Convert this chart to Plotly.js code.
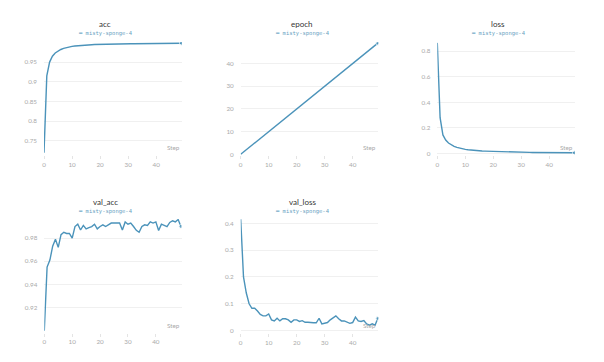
<!DOCTYPE html>
<html>
<head>
<meta charset="utf-8">
<script src="https://cdn.plot.ly/plotly-3.0.1.min.js"></script>
<style>html,body{margin:0;padding:0;background:#fff;}#chart{width:604px;height:362px;}</style>
</head>
<body>
<div id="chart"></div>
<script>
// ---- data ----
const steps = Array.from({length: 50}, (_, i) => i);
const runName = "misty-sponge-4";
const panelTitles = ["acc", "epoch", "loss", "val_acc", "val_loss"];

const acc = [0.72, 0.915, 0.950, 0.965, 0.973, 0.978, 0.982, 0.985, 0.987, 0.989,
  0.990, 0.991, 0.9918, 0.9924, 0.993, 0.9934, 0.9938, 0.9942, 0.9945, 0.9948,
  0.995, 0.9952, 0.9954, 0.9956, 0.9958, 0.996, 0.9961, 0.9962, 0.9963, 0.9964,
  0.9965, 0.9966, 0.9967, 0.9968, 0.9969, 0.997, 0.9971, 0.9972, 0.9973, 0.9974,
  0.9975, 0.9976, 0.9977, 0.9977, 0.9978, 0.9978, 0.9979, 0.9979, 0.998, 0.998];

const epoch = [0, 1, 2, 3, 4, 5, 6, 7, 8, 9, 10, 11, 12, 13, 14, 15, 16, 17, 18, 19,
  20, 21, 22, 23, 24, 25, 26, 27, 28, 29, 30, 31, 32, 33, 34, 35, 36, 37, 38, 39,
  40, 41, 42, 43, 44, 45, 46, 47, 48, 49];

const loss = [0.865, 0.28, 0.145, 0.105, 0.082, 0.067, 0.056, 0.048, 0.041, 0.036,
  0.032, 0.029, 0.026, 0.024, 0.022, 0.020, 0.019, 0.018, 0.017, 0.016,
  0.015, 0.0142, 0.0135, 0.0128, 0.0122, 0.0116, 0.011, 0.0105, 0.010, 0.0096,
  0.0092, 0.0088, 0.0085, 0.0082, 0.0079, 0.0076, 0.0073, 0.007, 0.0068, 0.0066,
  0.0064, 0.0062, 0.006, 0.0058, 0.0056, 0.0055, 0.0054, 0.0053, 0.0052, 0.0051];

const valAcc = [0.900, 0.955, 0.961, 0.973, 0.979, 0.972, 0.983, 0.985, 0.984, 0.984,
  0.980, 0.990, 0.992, 0.987, 0.991, 0.988, 0.989, 0.990, 0.992, 0.988,
  0.990, 0.9915, 0.990, 0.9915, 0.993, 0.993, 0.993, 0.993, 0.987, 0.994,
  0.992, 0.993, 0.990, 0.9867, 0.985, 0.990, 0.9915, 0.991, 0.994, 0.993,
  0.994, 0.9866, 0.992, 0.991, 0.990, 0.9935, 0.995, 0.994, 0.996, 0.990];

const valLoss = [0.415, 0.20, 0.14, 0.10, 0.083, 0.083, 0.073, 0.060, 0.055, 0.055,
  0.062, 0.040, 0.036, 0.046, 0.036, 0.044, 0.044, 0.040, 0.031, 0.040,
  0.040, 0.034, 0.037, 0.031, 0.031, 0.029, 0.029, 0.029, 0.046, 0.025,
  0.027, 0.030, 0.040, 0.046, 0.055, 0.044, 0.036, 0.036, 0.031, 0.027,
  0.030, 0.050, 0.036, 0.034, 0.037, 0.025, 0.020, 0.025, 0.020, 0.046];

const yTicks = [
  [0.75, 0.8, 0.85, 0.9, 0.95],
  [0, 10, 20, 30, 40],
  [0, 0.2, 0.4, 0.6, 0.8],
  [0.92, 0.94, 0.96, 0.98],
  [0, 0.1, 0.2, 0.3, 0.4]
];
const xTicks = [0, 10, 20, 30, 40];

// ---- styling / layout ----
const lineColor = "#4b93ba";
const series = [acc, epoch, loss, valAcc, valLoss];
const yRanges = [[0.714, 1.001], [-0.3, 49.5], [-0.012, 0.872], [0.8985, 0.9965], [-0.009, 0.416]];
const xDomains = [[44/604, 182/604], [240.7/604, 378.4/604], [437.3/604, 575/604], [44.3/604, 181.5/604], [240.7/604, 378.4/604]];
const yDomains = [[207/362, 320/362], [207/362, 320/362], [207/362, 320/362], [29.5/362, 143/362], [29/362, 143/362]];
const titleX = [105, 302, 498, 105, 302];
const titleY = [24, 24, 24, 201.5, 201.5];
const legendY = [34, 34, 34, 211, 211];

const traces = [];
const layout = {
  width: 604, height: 362,
  margin: {l: 0, r: 0, t: 0, b: 0},
  paper_bgcolor: "#fff", plot_bgcolor: "#fff",
  showlegend: false,
  font: {family: "Lato, 'Open Sans', sans-serif", size: 6, color: "#aaa"},
  annotations: []
};

series.forEach((ys, i) => {
  const n = i + 1;
  const xa = n === 1 ? "x" : "x" + n;
  const ya = n === 1 ? "y" : "y" + n;
  const sizes = ys.map((_, k) => k === ys.length - 1 ? 4 : 0);
  traces.push({
    x: steps, y: ys, xaxis: xa, yaxis: ya,
    type: "scatter", mode: "lines+markers",
    line: {color: lineColor, width: 1.4},
    marker: {color: lineColor, size: sizes},
    hoverinfo: "skip"
  });
  const xKey = n === 1 ? "xaxis" : "xaxis" + n;
  const yKey = n === 1 ? "yaxis" : "yaxis" + n;
  layout[xKey] = {
    domain: xDomains[i], anchor: ya, range: [0, 49.2],
    tickvals: xTicks, ticktext: xTicks.map(String),
    showgrid: false, zeroline: false, showline: false,
    ticks: "outside", ticklen: 3, tickcolor: "#e4e4e4",
    tickfont: {size: 6.3, color: "#aaa"}
  };
  layout[yKey] = {
    domain: yDomains[i], anchor: xa, range: yRanges[i],
    tickvals: yTicks[i], ticktext: yTicks[i].map(String),
    showgrid: true, gridcolor: "#f0f0f0", gridwidth: 1,
    zeroline: false, showline: false, ticks: "",
    ticklabelstandoff: 6,
    tickfont: {size: 6.3, color: "#aaa"}
  };
  layout.annotations.push({
    xref: "paper", yref: "paper", x: titleX[i] / 604, y: 1 - titleY[i] / 362,
    xanchor: "center", yanchor: "middle", showarrow: false,
    text: panelTitles[i],
    font: {family: "Lato, sans-serif", size: 8, color: "#333"}
  });
  layout.annotations.push({
    xref: "paper", yref: "paper", x: titleX[i] / 604, y: 1 - legendY[i] / 362,
    xanchor: "center", yanchor: "middle", showarrow: false,
    text: '<span style="color:' + lineColor + '">━</span> ' + runName,
    font: {family: "'DejaVu Sans Mono', monospace", size: 5.5, color: "#6a9fbf"}
  });
  layout.annotations.push({
    xref: xa + " domain", yref: ya + " domain", x: 1, y: 0,
    xanchor: "right", yanchor: "bottom", yshift: 2, showarrow: false,
    text: "Step",
    font: {family: "Lato, sans-serif", size: 6.3, color: "#aaa"}
  });
});

Plotly.newPlot("chart", traces, layout, {displayModeBar: false, staticPlot: true});
</script>
</body>
</html>
